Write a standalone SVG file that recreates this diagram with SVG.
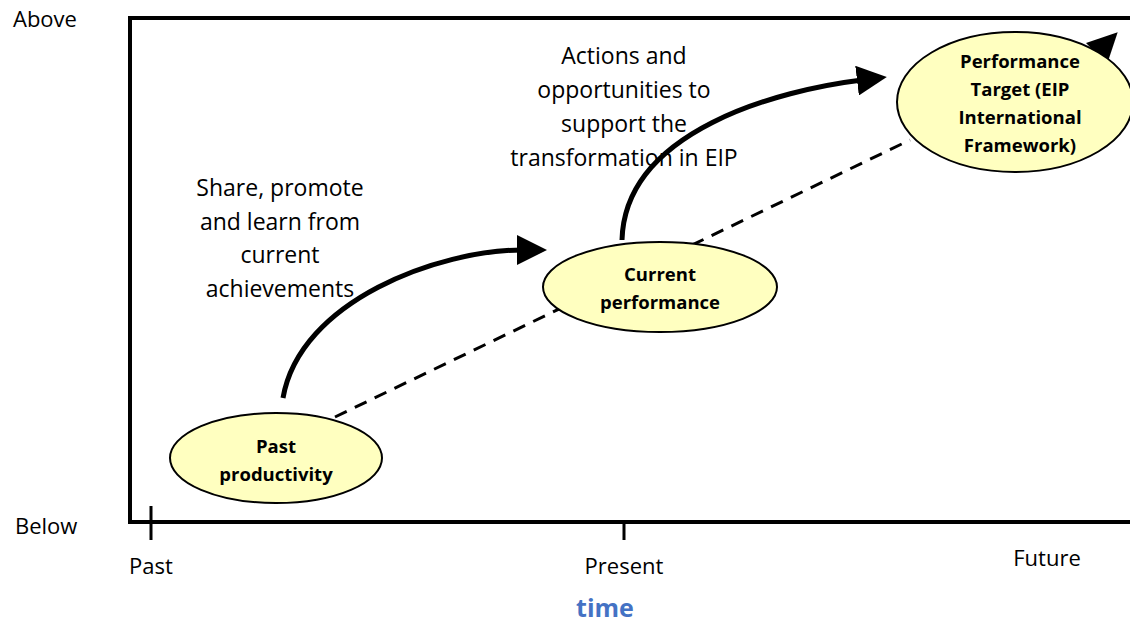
<svg xmlns="http://www.w3.org/2000/svg" width="1130" height="624" viewBox="0 0 1130 624">
<style>
text{font-family:"Open Sans","Liberation Sans",sans-serif;fill:#000}
.lbl{font-size:23px}
.ax{font-size:22px}
.nd{font-size:18.5px;font-weight:bold;text-anchor:middle}
.el{fill:#FFFFC0;stroke:#000;stroke-width:2}
.arr{fill:none;stroke:#000;stroke-width:5;marker-end:url(#ah)}
</style>
<defs>
<marker id="ah" markerWidth="6" markerHeight="6" refX="1" refY="3" orient="auto" markerUnits="strokeWidth">
<path d="M0,0 L6,3 L0,6 Z" fill="#000"/>
</marker>
</defs>
<g id="axes" fill="none" stroke="#000" stroke-width="4">
<path d="M1130,18 H130 V522 H1130"/>
<path d="M151,506 V540 M624,522 V540" stroke-width="3"/>
</g>
<g id="axis-labels">
<text class="ax" x="13" y="27">Above</text>
<text class="ax" x="15" y="534">Below</text>
<text class="ax" x="151" y="574" text-anchor="middle">Past</text>
<text class="ax" x="624" y="574" text-anchor="middle">Present</text>
<text class="ax" x="1047" y="566" text-anchor="middle">Future</text>
<text x="605" y="617" text-anchor="middle" style="font-size:25px;font-weight:bold;fill:#4472C4">time</text>
</g>
<g id="connectors">
<path d="M335,417 L910,140" fill="none" stroke="#000" stroke-width="3" stroke-dasharray="13,9"/>
<path class="arr" d="M283,398 C300,300 440,250 522,250"/>
<path class="arr" d="M622,240 C625,130 780,90 862,80"/>
<path class="arr" d="M1080,70 C1090,60 1095,55 1100,50"/>
</g>
<g id="labels">
<text class="lbl" text-anchor="middle" x="280"><tspan x="280" y="196">Share, promote</tspan><tspan x="280" y="230">and learn from</tspan><tspan x="280" y="263">current</tspan><tspan x="280" y="297">achievements</tspan></text>
<text class="lbl" text-anchor="middle" x="624"><tspan x="624" y="64">Actions and</tspan><tspan x="624" y="98">opportunities to</tspan><tspan x="624" y="132">support the</tspan><tspan x="624" y="166">transformation in EIP</tspan></text>
</g>
<g id="node-past">
<ellipse class="el" cx="276" cy="458" rx="106" ry="45"/>
<text class="nd" x="276" y="453">Past</text>
<text class="nd" x="276" y="481">productivity</text>
</g>
<g id="node-current">
<ellipse class="el" cx="660" cy="287" rx="117" ry="45"/>
<text class="nd" x="660" y="281">Current</text>
<text class="nd" x="660" y="309">performance</text>
</g>
<g id="node-target">
<ellipse class="el" cx="1015" cy="102" rx="118" ry="70"/>
<text class="nd" x="1020" y="68">Performance</text>
<text class="nd" x="1020" y="96">Target (EIP</text>
<text class="nd" x="1020" y="124">International</text>
<text class="nd" x="1020" y="152">Framework)</text>
</g>
</svg>
